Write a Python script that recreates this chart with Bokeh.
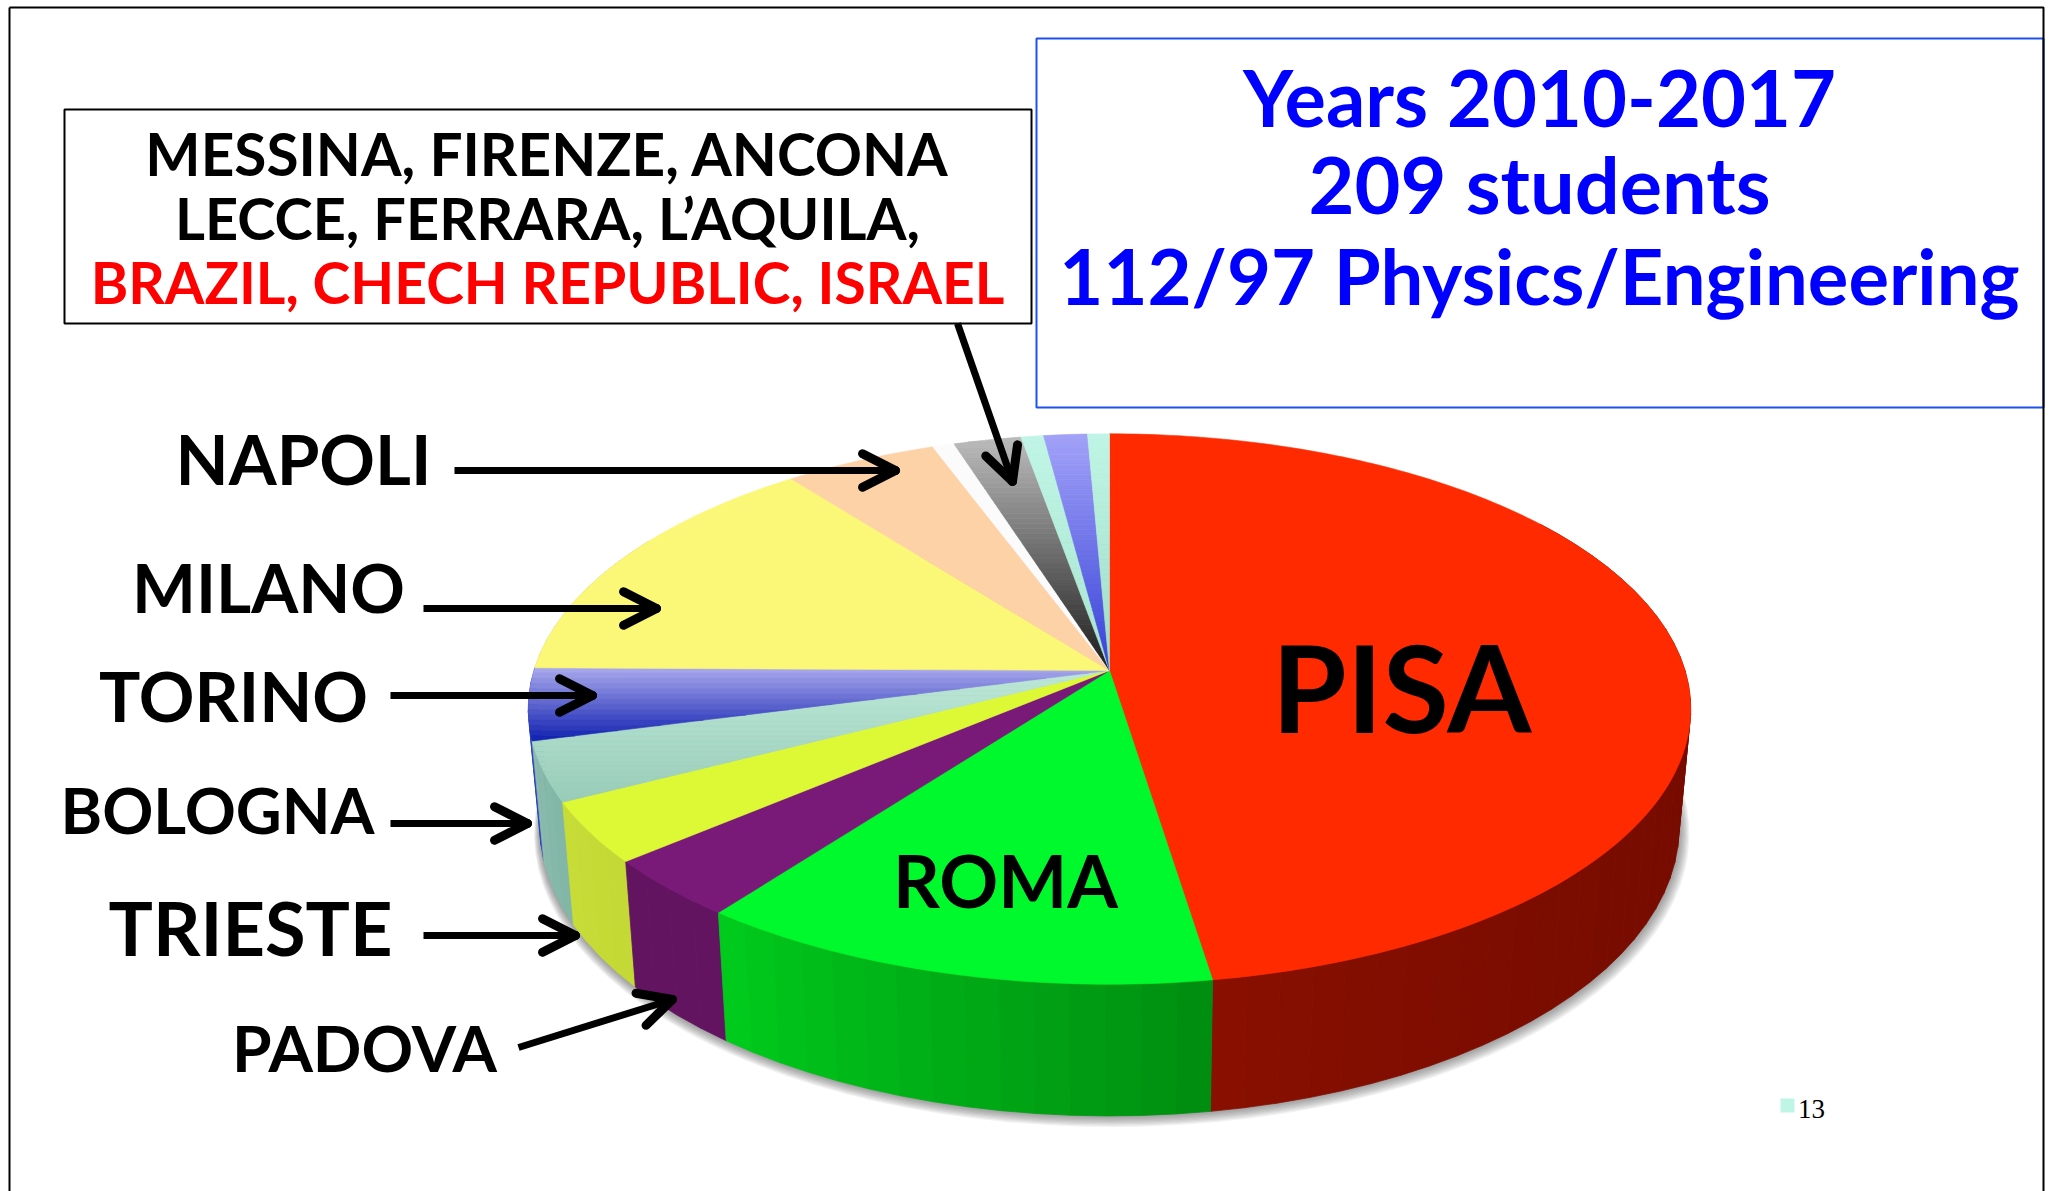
import math
from bokeh.plotting import figure
from bokeh.core.properties import value
from bokeh.embed import file_html
from bokeh.resources import INLINE

# ---- data (students per site, total about 209)
cities = ["PISA", "ROMA", "PADOVA", "TRIESTE", "BOLOGNA", "TORINO", "MILANO",
          "NAPOLI", "OTHER_A", "OTHER_B", "OTHER_C", "OTHER_D", "OTHER_E"]
counts = [99.3, 26.7, 7.4, 7.5, 7.3, 8.8, 29.9, 10.2, 1.45, 4.5, 1.5, 2.9, 1.45]

# ---- styles
top_first = ["#ff2a00", "#00f92c", "#7a1a78", "#ddf935", "#bde8d8", "#aaaaee", "#fbf777",
             "#fdd2a6", "#fbfbfb", "#bcbcbc", "#c0f5e5", "#a2a2f8", "#bff5e4"]
top_last = ["#ff2a00", "#00f92c", "#7a1a78", "#ddf935", "#98ccb8", "#1020b0", "#fbf777",
            "#fdd2a6", "#fbfbfb", "#1c1c1c", "#a8e4d0", "#3540d8", "#a0dcc8"]
wall_first = ["#760b00", "#008c10", "#631460", "#c4d935", "#80b5a5", "#3048c0", "#d0cc60",
              "#d0a880", "#cccccc", "#444444", "#90c0b0", "#3040b0", "#90c0b0"]
wall_last = ["#8a1000", "#00cc1c", "#631460", "#c8dc38", "#8cbcae", "#2030b0", "#d0cc60",
             "#d0a880", "#cccccc", "#444444", "#90c0b0", "#3040b0", "#90c0b0"]
wall_gamma = [6, 1, 1, 1, 1, 1, 1, 1, 1, 1, 1, 1, 1]

box_lines = ["MESSINA, FIRENZE, ANCONA", "LECCE, FERRARA, L\u2019AQUILA,",
             "BRAZIL, CHECH REPUBLIC, ISRAEL"]
info_lines = ["Years 2010-2017", "209 students", "112/97 Physics/Engineering"]

FONT = "Lato"
AX, AY = 1109.0, 670.0      # apex of the pie on the page
RX, RY, K = 575.5, 269.8, 0.14
WALL_SX, WALL_SY, WALL_DY = 0.98, 1.05, 116.0

p = figure(width=2051, height=1191, x_range=(0, 2051), y_range=(1191, 0),
           toolbar_location=None, output_backend="svg", x_axis_location=None,
           y_axis_location=None, min_border=0, background_fill_color="white")
p.grid.visible = False
p.outline_line_color = None


def top_pt(deg):
    a = math.radians(deg)
    u, v = math.sin(a), math.cos(a)
    w = 1 + K * v
    return AX + RX * u / w, AY - RY * v / w


def bot_pt(deg):
    x, y = top_pt(deg)
    return AX + (x - AX) * WALL_SX, AY + (y - AY) * WALL_SY + WALL_DY


def hex2rgb(c):
    return [int(c[i:i + 2], 16) for i in (1, 3, 5)]


def mix(c1, c2, t):
    a, b = hex2rgb(c1), hex2rgb(c2)
    return "#%02x%02x%02x" % tuple(round(a[i] + (b[i] - a[i]) * t) for i in range(3))


def clip_y(poly, lo, hi):
    def clip(pts, limit, keep_above):
        out = []
        for i in range(len(pts)):
            x0, y0 = pts[i]
            x1, y1 = pts[(i + 1) % len(pts)]
            in0 = (y0 >= limit) if keep_above else (y0 <= limit)
            in1 = (y1 >= limit) if keep_above else (y1 <= limit)
            if in0:
                out.append((x0, y0))
            if in0 != in1:
                t = (limit - y0) / (y1 - y0)
                out.append((x0 + (x1 - x0) * t, limit))
        return out
    res = clip(poly, lo, True)
    return clip(res, hi, False) if res else res


# shadow
shadow_x, shadow_y = [], []
for d in range(1, 10):
    pts = [bot_pt(t) for t in range(0, 360, 3)]
    sc = 1 + d * 0.0016
    shadow_x.append([AX + (x - AX) * sc + d * 0.25 for x, _ in pts])
    shadow_y.append([AY + 116 + (y - AY - 116) * sc + d * 0.7 for _, y in pts])
p.patches(shadow_x, shadow_y, fill_color="#404040", fill_alpha=0.07, line_color=None)

total = sum(counts)
starts = []
acc = 0.0
for c in counts:
    starts.append(acc)
    acc += c * 360.0 / total

# side wall
quads = []
for s, c, wa, wb, g in zip(starts, counts, wall_first, wall_last, wall_gamma):
    span = c * 360.0 / total
    n = max(1, int(span / 3))
    for i in range(n):
        a0 = s + span * i / n
        a1 = s + span * (i + 1) / n
        mid = (a0 + a1) / 2
        if 55 < mid < 300:
            quads.append((math.cos(math.radians(mid)),
                          [top_pt(a0), top_pt(a1), bot_pt(a1), bot_pt(a0)],
                          mix(wa, wb, ((i + 0.5) / n) ** g)))
quads.sort(key=lambda q: -q[0])
p.patches([[x for x, _ in q[1]] for q in quads], [[y for _, y in q[1]] for q in quads],
          fill_color=[q[2] for q in quads], line_color=[q[2] for q in quads], line_width=0.8)

# top surface
xs, ys, cols = [], [], []
for s, c, ca, cb in zip(starts, counts, top_first, top_last):
    span = c * 360.0 / total
    n = max(2, int(span))
    poly = [(AX, AY)] + [top_pt(s + span * i / n) for i in range(n + 1)]
    if ca == cb:
        xs.append([x for x, _ in poly])
        ys.append([y for _, y in poly])
        cols.append(ca)
    else:
        lo = min(y for _, y in poly)
        hi = max(y for _, y in poly)
        bands = max(1, int((hi - lo) / 5))
        for b in range(bands):
            y0 = lo + (hi - lo) * b / bands
            y1 = lo + (hi - lo) * (b + 1) / bands
            piece = clip_y(poly, y0, y1)
            if len(piece) >= 3:
                xs.append([x for x, _ in piece])
                ys.append([y for _, y in piece])
                cols.append(mix(ca, cb, (b + 0.5) / bands))
p.patches(xs, ys, fill_color=cols, line_color=cols, line_width=0.6)

# frame and boxes
p.quad(left=[64], right=[1031], top=[109], bottom=[323], fill_color="white",
       line_color="black", line_width=2)
p.quad(left=[1036], right=[2043], top=[38], bottom=[407], fill_color="white",
       line_color="#2050f0", line_width=2)
p.multi_line([[9, 9], [9, 2043, 2043]], [[1191, 7], [7, 7, 1191]], line_color="black", line_width=2)


def label(txt, cx, cy, size, color="black", font=FONT, style="bold"):
    p.text([cx], [cy], text=[txt], text_align="center", text_baseline="middle",
           text_font=value(font), text_font_size=value(f"{size}px"), text_color=color,
           text_font_style=style)


def arrow(x0, y0, x1, y1, width=7):
    p.line([x0, x1], [y0, y1], line_color="black", line_width=width, line_cap="butt")
    ang = math.atan2(y1 - y0, x1 - x0)
    ax, ay = [], []
    for sgn in (1, -1):
        b = ang + math.pi + sgn * math.radians(27)
        ax.append([x1, x1 + 37 * math.cos(b)])
        ay.append([y1, y1 + 37 * math.sin(b)])
    p.multi_line(ax, ay, line_color="black", line_width=width + 2, line_cap="round")


arrow(454, 470, 895, 470)
arrow(423, 608, 656, 608)
arrow(390, 695, 592, 695)
arrow(390, 823, 527, 823)
arrow(423, 935, 575, 935)
arrow(518, 1047, 672, 999)
arrow(957, 323, 1012, 481)

label(box_lines[0], 547, 152, 58.5)
label(box_lines[1], 547, 217, 57.7)
label(box_lines[2], 547, 281, 57, "#ff0000")
label(info_lines[0], 1539, 96, 77.6, "#0000ff")
label(info_lines[1], 1539, 183, 79.3, "#0000ff")
label(info_lines[2], 1539, 275, 76, "#0000ff")

label("NAPOLI", 303, 458, 69)
label("MILANO", 268, 586, 67.7)
label("TORINO", 233, 695, 69)
label("BOLOGNA", 217, 809, 63.3)
label("TRIESTE", 250, 927, 74)
label("PADOVA", 364, 1047, 64)
label(cities[0], 1401, 686, 121)
label(cities[1], 1005, 879, 73)

# small legend residue
p.quad(left=[1780], right=[1794], top=[1098], bottom=[1112], fill_color="#bff5e4", line_color=None)
label("13", 1811, 1108, 27, font="Liberation Serif", style="normal")

open("out.html", "w").write(file_html(p, INLINE))
